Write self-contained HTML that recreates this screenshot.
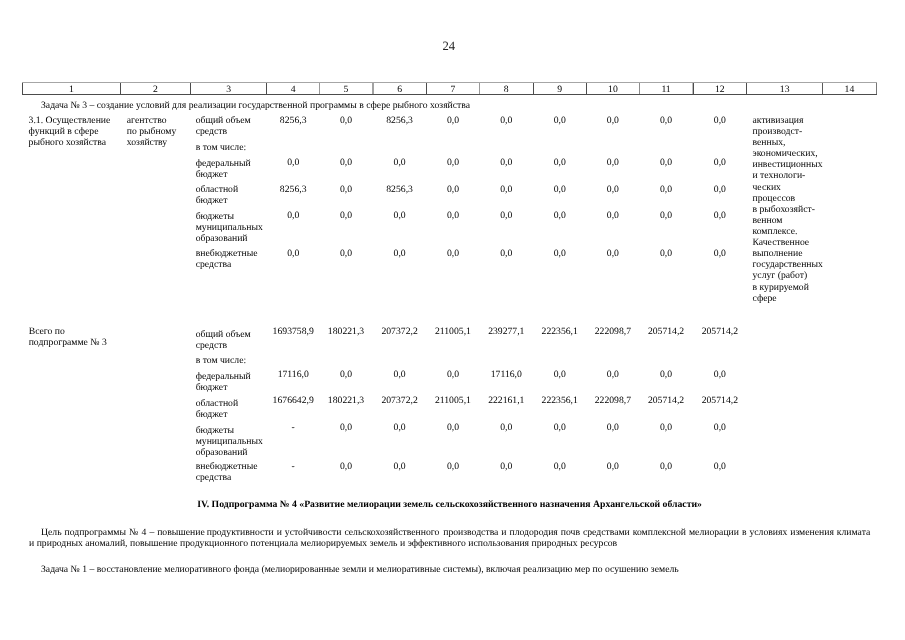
<!DOCTYPE html>
<html lang="ru"><head><meta charset="utf-8"><title>24</title>
<style>
html,body{margin:0;padding:0;background:#fff}
body{width:905px;height:640px;position:relative;overflow:hidden;font-family:"Liberation Serif",serif;color:#000;text-rendering:geometricPrecision;filter:grayscale(1)}
.t{position:absolute;white-space:nowrap;font-size:9.7px;line-height:12.0px;height:12.0px}
.c{text-align:center}
.b{font-weight:bold}
.pn{font-size:12.7px;line-height:15px;height:15px;color:#222}
.ln{position:absolute;background:#4a4a4a}
</style></head><body>
<div class="t pn" style="left:442.4px;top:39.00px">24</div>
<div class="ln" style="left:22px;top:82px;width:1px;height:12px;background:#4c4c4c"></div>
<div class="ln" style="left:120px;top:82px;width:1px;height:12px;background:#4c4c4c"></div>
<div class="ln" style="left:190px;top:82px;width:1px;height:12px;background:#4c4c4c"></div>
<div class="ln" style="left:266px;top:82px;width:1px;height:12px;background:#4c4c4c"></div>
<div class="ln" style="left:319px;top:82px;width:1px;height:12px;background:#9a9a9a"></div>
<div class="ln" style="left:372px;top:82px;width:2px;height:12px;background:#a2a2a2"></div>
<div class="ln" style="left:426px;top:82px;width:1px;height:12px;background:#4c4c4c"></div>
<div class="ln" style="left:479px;top:82px;width:1px;height:12px;background:#9a9a9a"></div>
<div class="ln" style="left:533px;top:82px;width:1px;height:12px;background:#4c4c4c"></div>
<div class="ln" style="left:586px;top:82px;width:1px;height:12px;background:#4c4c4c"></div>
<div class="ln" style="left:639px;top:82px;width:1px;height:12px;background:#8c8c8c"></div>
<div class="ln" style="left:692px;top:82px;width:1px;height:12px;background:#bcbcbc"></div>
<div class="ln" style="left:693px;top:82px;width:1px;height:12px;background:#4c4c4c"></div>
<div class="ln" style="left:746px;top:82px;width:1px;height:12px;background:#4c4c4c"></div>
<div class="ln" style="left:822px;top:82px;width:1px;height:12px;background:#5a5a5a"></div>
<div class="ln" style="left:876px;top:82px;width:1px;height:12px;background:#767676"></div>
<div class="ln" style="left:22px;top:82px;width:855px;height:1px;background:#a6a6a6"></div>
<div class="ln" style="left:22px;top:94px;width:855px;height:1px;background:#4c4c4c"></div>
<div class="t c " style="left:22.40px;width:98.10px;top:84.00px">1</div>
<div class="t c " style="left:120.50px;width:69.80px;top:84.00px">2</div>
<div class="t c " style="left:190.30px;width:76.90px;top:84.00px">3</div>
<div class="t c " style="left:267.20px;width:52.00px;top:84.00px">4</div>
<div class="t c " style="left:319.20px;width:53.70px;top:84.00px">5</div>
<div class="t c " style="left:372.90px;width:53.40px;top:84.00px">6</div>
<div class="t c " style="left:426.30px;width:53.30px;top:84.00px">7</div>
<div class="t c " style="left:479.60px;width:53.40px;top:84.00px">8</div>
<div class="t c " style="left:533.00px;width:53.40px;top:84.00px">9</div>
<div class="t c " style="left:586.40px;width:53.00px;top:84.00px">10</div>
<div class="t c " style="left:639.40px;width:53.30px;top:84.00px">11</div>
<div class="t c " style="left:692.70px;width:54.30px;top:84.00px">12</div>
<div class="t c " style="left:747.00px;width:75.40px;top:84.00px">13</div>
<div class="t c " style="left:822.40px;width:54.10px;top:84.00px">14</div>
<div class="t " style="left:41.00px;top:100.00px;">Задача № 3 – создание условий для реализации государственной программы в сфере рыбного хозяйства</div>
<div class="t " style="left:28.60px;top:115.00px;">3.1. Осуществление</div>
<div class="t " style="left:28.60px;top:126.00px;">функций в сфере</div>
<div class="t " style="left:28.60px;top:137.00px;">рыбного хозяйства</div>
<div class="t " style="left:126.80px;top:115.00px;">агентство</div>
<div class="t " style="left:126.80px;top:126.00px;">по рыбному</div>
<div class="t " style="left:126.80px;top:137.00px;">хозяйству</div>
<div class="t " style="left:195.70px;top:115.00px;">общий объем</div>
<div class="t " style="left:195.70px;top:126.00px;">средств</div>
<div class="t " style="left:195.70px;top:142.00px;">в том числе:</div>
<div class="t " style="left:195.70px;top:158.00px;">федеральный</div>
<div class="t " style="left:195.70px;top:169.00px;">бюджет</div>
<div class="t " style="left:195.70px;top:184.00px;">областной</div>
<div class="t " style="left:195.70px;top:195.00px;">бюджет</div>
<div class="t " style="left:195.70px;top:211.00px;">бюджеты</div>
<div class="t " style="left:195.70px;top:222.00px;">муниципальных</div>
<div class="t " style="left:195.70px;top:233.00px;">образований</div>
<div class="t " style="left:195.70px;top:248.00px;">внебюджетные</div>
<div class="t " style="left:195.70px;top:259.00px;">средства</div>
<div class="t " style="left:752.50px;top:115.00px;">активизация</div>
<div class="t " style="left:752.50px;top:126.00px;">производст-</div>
<div class="t " style="left:752.50px;top:137.00px;">венных,</div>
<div class="t " style="left:752.50px;top:148.00px;">экономических,</div>
<div class="t " style="left:752.50px;top:159.00px;">инвестиционных</div>
<div class="t " style="left:752.50px;top:170.00px;">и технологи-</div>
<div class="t " style="left:752.50px;top:182.00px;">ческих</div>
<div class="t " style="left:752.50px;top:193.00px;">процессов</div>
<div class="t " style="left:752.50px;top:204.00px;">в рыбохозяйст-</div>
<div class="t " style="left:752.50px;top:215.00px;">венном</div>
<div class="t " style="left:752.50px;top:226.00px;">комплексе.</div>
<div class="t " style="left:752.50px;top:237.00px;">Качественное</div>
<div class="t " style="left:752.50px;top:248.00px;">выполнение</div>
<div class="t " style="left:752.50px;top:259.00px;">государственных</div>
<div class="t " style="left:752.50px;top:270.00px;">услуг (работ)</div>
<div class="t " style="left:752.50px;top:282.00px;">в курируемой</div>
<div class="t " style="left:752.50px;top:293.00px;">сфере</div>
<div class="t c " style="left:267.20px;width:52.00px;top:115.00px">8256,3</div>
<div class="t c " style="left:319.20px;width:53.70px;top:115.00px">0,0</div>
<div class="t c " style="left:372.90px;width:53.40px;top:115.00px">8256,3</div>
<div class="t c " style="left:426.30px;width:53.30px;top:115.00px">0,0</div>
<div class="t c " style="left:479.60px;width:53.40px;top:115.00px">0,0</div>
<div class="t c " style="left:533.00px;width:53.40px;top:115.00px">0,0</div>
<div class="t c " style="left:586.40px;width:53.00px;top:115.00px">0,0</div>
<div class="t c " style="left:639.40px;width:53.30px;top:115.00px">0,0</div>
<div class="t c " style="left:692.70px;width:54.30px;top:115.00px">0,0</div>
<div class="t c " style="left:267.20px;width:52.00px;top:157.00px">0,0</div>
<div class="t c " style="left:319.20px;width:53.70px;top:157.00px">0,0</div>
<div class="t c " style="left:372.90px;width:53.40px;top:157.00px">0,0</div>
<div class="t c " style="left:426.30px;width:53.30px;top:157.00px">0,0</div>
<div class="t c " style="left:479.60px;width:53.40px;top:157.00px">0,0</div>
<div class="t c " style="left:533.00px;width:53.40px;top:157.00px">0,0</div>
<div class="t c " style="left:586.40px;width:53.00px;top:157.00px">0,0</div>
<div class="t c " style="left:639.40px;width:53.30px;top:157.00px">0,0</div>
<div class="t c " style="left:692.70px;width:54.30px;top:157.00px">0,0</div>
<div class="t c " style="left:267.20px;width:52.00px;top:184.00px">8256,3</div>
<div class="t c " style="left:319.20px;width:53.70px;top:184.00px">0,0</div>
<div class="t c " style="left:372.90px;width:53.40px;top:184.00px">8256,3</div>
<div class="t c " style="left:426.30px;width:53.30px;top:184.00px">0,0</div>
<div class="t c " style="left:479.60px;width:53.40px;top:184.00px">0,0</div>
<div class="t c " style="left:533.00px;width:53.40px;top:184.00px">0,0</div>
<div class="t c " style="left:586.40px;width:53.00px;top:184.00px">0,0</div>
<div class="t c " style="left:639.40px;width:53.30px;top:184.00px">0,0</div>
<div class="t c " style="left:692.70px;width:54.30px;top:184.00px">0,0</div>
<div class="t c " style="left:267.20px;width:52.00px;top:210.00px">0,0</div>
<div class="t c " style="left:319.20px;width:53.70px;top:210.00px">0,0</div>
<div class="t c " style="left:372.90px;width:53.40px;top:210.00px">0,0</div>
<div class="t c " style="left:426.30px;width:53.30px;top:210.00px">0,0</div>
<div class="t c " style="left:479.60px;width:53.40px;top:210.00px">0,0</div>
<div class="t c " style="left:533.00px;width:53.40px;top:210.00px">0,0</div>
<div class="t c " style="left:586.40px;width:53.00px;top:210.00px">0,0</div>
<div class="t c " style="left:639.40px;width:53.30px;top:210.00px">0,0</div>
<div class="t c " style="left:692.70px;width:54.30px;top:210.00px">0,0</div>
<div class="t c " style="left:267.20px;width:52.00px;top:248.00px">0,0</div>
<div class="t c " style="left:319.20px;width:53.70px;top:248.00px">0,0</div>
<div class="t c " style="left:372.90px;width:53.40px;top:248.00px">0,0</div>
<div class="t c " style="left:426.30px;width:53.30px;top:248.00px">0,0</div>
<div class="t c " style="left:479.60px;width:53.40px;top:248.00px">0,0</div>
<div class="t c " style="left:533.00px;width:53.40px;top:248.00px">0,0</div>
<div class="t c " style="left:586.40px;width:53.00px;top:248.00px">0,0</div>
<div class="t c " style="left:639.40px;width:53.30px;top:248.00px">0,0</div>
<div class="t c " style="left:692.70px;width:54.30px;top:248.00px">0,0</div>
<div class="t " style="left:28.70px;top:326.00px;">Всего по</div>
<div class="t " style="left:28.70px;top:337.00px;">подпрограмме № 3</div>
<div class="t " style="left:195.70px;top:329.00px;">общий объем</div>
<div class="t " style="left:195.70px;top:340.00px;">средств</div>
<div class="t " style="left:195.70px;top:355.00px;">в том числе:</div>
<div class="t " style="left:195.70px;top:371.00px;">федеральный</div>
<div class="t " style="left:195.70px;top:382.00px;">бюджет</div>
<div class="t " style="left:195.70px;top:398.00px;">областной</div>
<div class="t " style="left:195.70px;top:409.00px;">бюджет</div>
<div class="t " style="left:195.70px;top:425.00px;">бюджеты</div>
<div class="t " style="left:195.70px;top:436.00px;">муниципальных</div>
<div class="t " style="left:195.70px;top:447.00px;">образований</div>
<div class="t " style="left:195.70px;top:461.00px;">внебюджетные</div>
<div class="t " style="left:195.70px;top:472.00px;">средства</div>
<div class="t c " style="left:267.20px;width:52.00px;top:326.00px">1693758,9</div>
<div class="t c " style="left:319.20px;width:53.70px;top:326.00px">180221,3</div>
<div class="t c " style="left:372.90px;width:53.40px;top:326.00px">207372,2</div>
<div class="t c " style="left:426.30px;width:53.30px;top:326.00px">211005,1</div>
<div class="t c " style="left:479.60px;width:53.40px;top:326.00px">239277,1</div>
<div class="t c " style="left:533.00px;width:53.40px;top:326.00px">222356,1</div>
<div class="t c " style="left:586.40px;width:53.00px;top:326.00px">222098,7</div>
<div class="t c " style="left:639.40px;width:53.30px;top:326.00px">205714,2</div>
<div class="t c " style="left:692.70px;width:54.30px;top:326.00px">205714,2</div>
<div class="t c " style="left:267.20px;width:52.00px;top:369.00px">17116,0</div>
<div class="t c " style="left:319.20px;width:53.70px;top:369.00px">0,0</div>
<div class="t c " style="left:372.90px;width:53.40px;top:369.00px">0,0</div>
<div class="t c " style="left:426.30px;width:53.30px;top:369.00px">0,0</div>
<div class="t c " style="left:479.60px;width:53.40px;top:369.00px">17116,0</div>
<div class="t c " style="left:533.00px;width:53.40px;top:369.00px">0,0</div>
<div class="t c " style="left:586.40px;width:53.00px;top:369.00px">0,0</div>
<div class="t c " style="left:639.40px;width:53.30px;top:369.00px">0,0</div>
<div class="t c " style="left:692.70px;width:54.30px;top:369.00px">0,0</div>
<div class="t c " style="left:267.20px;width:52.00px;top:395.00px">1676642,9</div>
<div class="t c " style="left:319.20px;width:53.70px;top:395.00px">180221,3</div>
<div class="t c " style="left:372.90px;width:53.40px;top:395.00px">207372,2</div>
<div class="t c " style="left:426.30px;width:53.30px;top:395.00px">211005,1</div>
<div class="t c " style="left:479.60px;width:53.40px;top:395.00px">222161,1</div>
<div class="t c " style="left:533.00px;width:53.40px;top:395.00px">222356,1</div>
<div class="t c " style="left:586.40px;width:53.00px;top:395.00px">222098,7</div>
<div class="t c " style="left:639.40px;width:53.30px;top:395.00px">205714,2</div>
<div class="t c " style="left:692.70px;width:54.30px;top:395.00px">205714,2</div>
<div class="t c " style="left:267.20px;width:52.00px;top:422.00px">-</div>
<div class="t c " style="left:319.20px;width:53.70px;top:422.00px">0,0</div>
<div class="t c " style="left:372.90px;width:53.40px;top:422.00px">0,0</div>
<div class="t c " style="left:426.30px;width:53.30px;top:422.00px">0,0</div>
<div class="t c " style="left:479.60px;width:53.40px;top:422.00px">0,0</div>
<div class="t c " style="left:533.00px;width:53.40px;top:422.00px">0,0</div>
<div class="t c " style="left:586.40px;width:53.00px;top:422.00px">0,0</div>
<div class="t c " style="left:639.40px;width:53.30px;top:422.00px">0,0</div>
<div class="t c " style="left:692.70px;width:54.30px;top:422.00px">0,0</div>
<div class="t c " style="left:267.20px;width:52.00px;top:461.00px">-</div>
<div class="t c " style="left:319.20px;width:53.70px;top:461.00px">0,0</div>
<div class="t c " style="left:372.90px;width:53.40px;top:461.00px">0,0</div>
<div class="t c " style="left:426.30px;width:53.30px;top:461.00px">0,0</div>
<div class="t c " style="left:479.60px;width:53.40px;top:461.00px">0,0</div>
<div class="t c " style="left:533.00px;width:53.40px;top:461.00px">0,0</div>
<div class="t c " style="left:586.40px;width:53.00px;top:461.00px">0,0</div>
<div class="t c " style="left:639.40px;width:53.30px;top:461.00px">0,0</div>
<div class="t c " style="left:692.70px;width:54.30px;top:461.00px">0,0</div>
<div class="t b" style="left:197.20px;top:499.00px;font-size:9.745px">IV. Подпрограмма № 4 «Развитие мелиорации земель сельскохозяйственного назначения Архангельской области»</div>
<div class="t " style="left:41.00px;top:527.00px;width:829.3px;text-align:justify;text-align-last:justify;white-space:normal">Цель подпрограммы № 4 – повышение <span style="position:relative;left:-0.9px">продуктивности и устойчивости сельскохозяйственного</span> производства и плодородия почв средствами комплексной мелиорации в условиях изменения климата</div>
<div class="t " style="left:29.00px;top:538.00px;word-spacing:0.08px">и природных аномалий, повышение продукционного потенциала мелиорируемых земель и эффективного использования природных ресурсов</div>
<div class="t " style="left:41.00px;top:564.00px;">Задача № 1 – восстановление мелиоративного фонда (мелиорированные земли и мелиоративные системы), включая реализацию мер по осушению земель</div>
</body></html>
